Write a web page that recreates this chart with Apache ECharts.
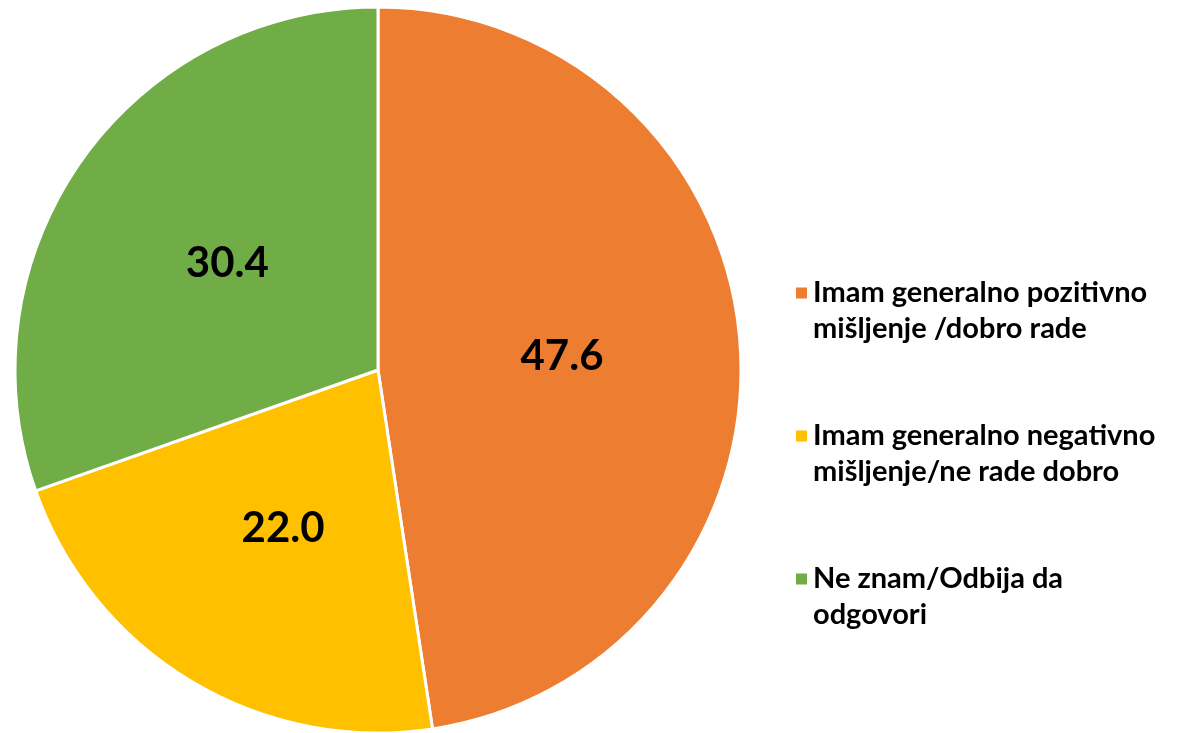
<!DOCTYPE html>
<html>
<head>
<meta charset="utf-8">
<script src="https://cdn.jsdelivr.net/npm/echarts@6/dist/echarts.min.js"></script>
<style>
    html, body { margin: 0; padding: 0; background: #fff; }
    #chart { width: 1178px; height: 733px; }
</style>
</head>
<body>
<div id="chart"></div>
<script>
// 数据
const categories = [
    'Imam generalno pozitivno\nmišljenje /dobro rade',
    'Imam generalno negativno\nmišljenje/ne rade dobro',
    'Ne znam/Odbija da\nodgovori'
];
const values = [47.6, 22.0, 30.4];
const colors = ['#ED7D31', '#FFC000', '#70AD47'];

const fontFamily = 'Lato, "Liberation Sans", sans-serif';

let myChart = echarts.init(document.getElementById('chart'));
let option = {
    color: colors,
    animation: false,
    legend: {
        orient: 'vertical',
        left: 789,
        top: 234,
        itemWidth: 13,
        itemHeight: 13,
        itemGap: 35,
        icon: 'rect',
        // 空的第一行让图标与文字第一行对齐
        formatter: name => '\n' + name,
        textStyle: {
            fontFamily: fontFamily,
            fontWeight: 'bold',
            fontSize: 29,
            lineHeight: 36,
            color: '#000'
        },
        data: categories
    },
    series: [{
        type: 'pie',
        center: [378, 370],
        radius: [0, 363],
        startAngle: 90,
        clockwise: true,
        itemStyle: {
            borderColor: '#fff',
            borderWidth: 3
        },
        label: {
            position: 'inside',
            fontFamily: fontFamily,
            fontWeight: 'bold',
            fontSize: 42,
            color: '#000',
            formatter: p => p.value.toFixed(1)
        },
        labelLine: { show: false },
        data: categories.map((name, i) => ({ name: name, value: values[i] }))
    }]
};
myChart.setOption(option);
</script>
</body>
</html>
